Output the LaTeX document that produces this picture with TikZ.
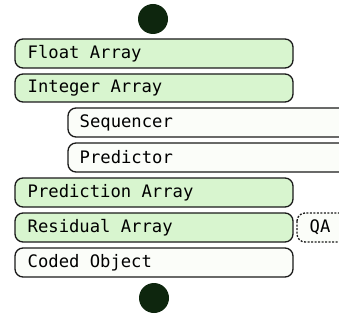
\documentclass[tikz,border=0pt]{standalone}
\usepackage{fontspec}
\setmonofont{DejaVu Sans Mono}
\definecolor{boxgreen}{HTML}{D8F5CF}
\definecolor{boxwhite}{HTML}{FBFDF9}
\definecolor{dotgreen}{HTML}{0E260E}
\definecolor{edge}{HTML}{1A1A1A}
\begin{document}
\begin{tikzpicture}[x=1pt,y=-1pt,
  card/.style={draw=edge,line width=1.3pt,rounded corners=8pt},
  gcard/.style={card,fill=boxgreen},
  wcard/.style={card,fill=boxwhite},
  lbl/.style={anchor=west,inner sep=0pt,font=\ttfamily\fontsize{17.2}{18}\selectfont,text=black},
  dot/.style={circle,fill=dotgreen,minimum size=30pt,inner sep=0pt}]
\useasboundingbox (0,0) rectangle (339,320);
\begin{scope}
\clip (0,0) rectangle (339,320);
\node[dot] (top) at (153,19) {};
\draw[gcard] (15,39) rectangle (293,68);
\node[lbl] (fa) at (27.5,53.5) {Float Array};
\draw[gcard] (15,74) rectangle (293,102);
\node[lbl] (ia) at (27.5,88) {Integer Array};
\draw[wcard] (68,108) rectangle (360,137);
\node[lbl] (sq) at (79.5,122.5) {Sequencer};
\draw[wcard] (68,143) rectangle (360,172);
\node[lbl] (pr) at (79.5,157.5) {Predictor};
\draw[gcard] (15,178) rectangle (293,207);
\node[lbl] (pa) at (27.5,192.5) {Prediction Array};
\draw[gcard] (15,213) rectangle (293,242);
\node[lbl] (ra) at (27.5,227.5) {Residual Array};
\draw[wcard,dashed,dash pattern=on 2pt off 1.5pt] (297,213) rectangle (360,242);
\node[lbl] (qa) at (309.5,227.5) {QA};
\draw[wcard] (15,248) rectangle (293,277);
\node[lbl] (co) at (27.5,262.5) {Coded Object};
\node[dot] (bot) at (154,298) {};
\end{scope}
\end{tikzpicture}
\end{document}
